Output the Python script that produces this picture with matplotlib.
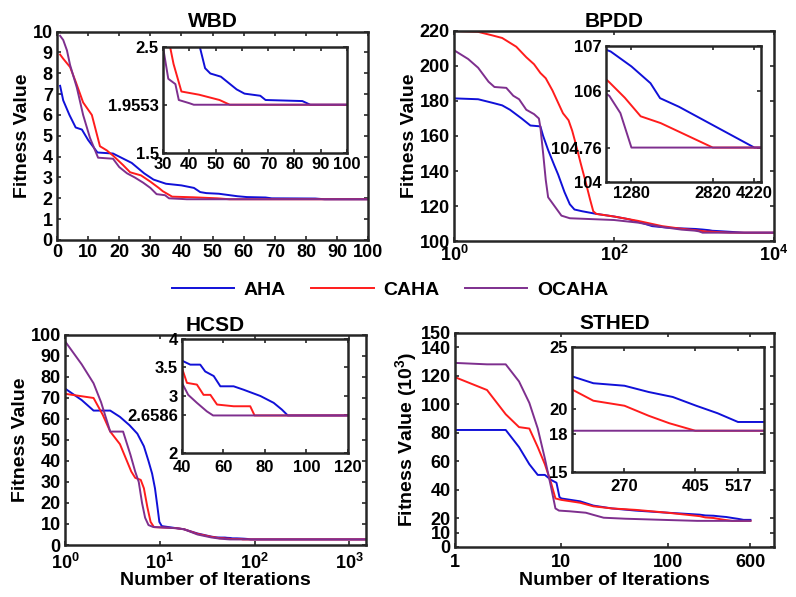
import matplotlib.pyplot as plt
from matplotlib.ticker import NullLocator, FixedLocator

plt.rcParams['font.family'] = ['Liberation Sans', 'DejaVu Sans']
plt.rcParams['font.weight'] = 'bold'
plt.rcParams['mathtext.fontset'] = 'custom'
plt.rcParams['mathtext.rm'] = 'Liberation Sans:bold'
plt.rcParams['mathtext.default'] = 'rm'

colores = {'AHA': '#1010d8', 'CAHA': '#ff1c1c', 'OCAHA': '#7e2f8e'}
nombres = ['AHA', 'CAHA', 'OCAHA']

# WBD
wbd_x = {
    'AHA': [1, 2, 4, 6, 8, 10, 13, 18, 20, 24, 28, 31, 35, 40, 44, 46, 48, 52, 55, 58, 61, 67, 69, 83, 86, 100],
    'CAHA': [1, 2, 4.2, 6, 8.4, 11.2, 13.8, 16, 18, 21.2, 23.5, 27, 30, 32.7, 34, 37, 43.7, 51.5, 55.4, 100],
    'OCAHA': [1, 2, 3.2, 4.2, 6.4, 8.4, 10.6, 13.2, 18, 20, 22.5, 25, 27.7, 30, 32, 34.7, 36, 40, 41.7, 100],
}
wbd_y = {
    'AHA': [7.4, 6.7, 6.0, 5.4, 5.3, 4.8, 4.2, 4.15, 4.0, 3.7, 3.2, 2.9, 2.7, 2.62, 2.5, 2.3, 2.25, 2.22, 2.16, 2.1, 2.06, 2.04, 2.0, 1.99, 1.9553, 1.9553],
    'CAHA': [8.9, 8.7, 8.3, 7.6, 6.6, 6.0, 4.5, 4.3, 4.05, 3.6, 3.25, 3.1, 2.8, 2.5, 2.34, 2.08, 2.05, 2.0, 1.9553, 1.9553],
    'OCAHA': [9.8, 9.6, 9.1, 8.4, 7.3, 6.0, 4.9, 3.95, 3.9, 3.5, 3.2, 3.0, 2.75, 2.5, 2.2, 2.15, 2.0, 1.97, 1.9553, 1.9553],
}

# BPDD
bpdd_x = {
    'AHA': [1, 2, 3, 4, 5, 7, 9, 12, 13, 15, 18, 20, 24, 28, 32, 40, 60, 100, 150, 200, 300, 500, 1046, 1280, 1540, 1690, 2030, 4220, 10000],
    'CAHA': [1, 2, 3, 4, 6, 8, 10, 12, 14, 17, 20, 23, 27, 30, 33, 38, 44, 50, 55, 60, 100, 200, 400, 700, 1033, 1200, 1400, 1700, 2820, 10000],
    'OCAHA': [1, 1.5, 2, 2.7, 3.2, 4.5, 5.5, 6.5, 8, 10, 11.5, 12, 13, 14, 15, 18, 22, 28, 100, 200, 400, 700, 1033, 1150, 1280, 10000],
}
bpdd_y = {
    'AHA': [181.5, 181, 179, 177.5, 175, 170, 166, 165.5, 160, 152, 143, 138, 128, 121, 118, 117, 115.5, 114, 112.5, 111, 108.5, 107.5, 106.88, 106.55, 106.18, 105.85, 105.66, 104.76, 104.76],
    'CAHA': [220, 219.5, 217.5, 216, 211, 205, 201, 196, 193, 186, 179, 173, 169, 163, 156, 145, 134, 124, 117, 115.5, 114, 111.5, 108.5, 107, 106.2, 105.86, 105.45, 105.3, 104.76, 104.76],
    'OCAHA': [209, 204, 199, 191, 188, 187.5, 183, 181, 175, 172.5, 170, 165, 150, 135, 125, 120, 114.5, 113, 112, 110.5, 108, 106.5, 105.9, 105.52, 104.76, 104.76],
}

# HCSD
hcsd_x = {
    'AHA': [1, 1.5, 2, 3, 3.8, 4.8, 5.8, 6.8, 7.6, 8.3, 8.9, 9.4, 9.9, 10.5, 15, 18, 25, 35, 40, 44, 48.8, 51.2, 55.3, 58.5, 64.9, 69.7, 77.8, 84.2, 88.2, 91, 1500],
    'CAHA': [1, 2, 2.5, 3, 3.8, 4.5, 5, 5.5, 6.3, 6.8, 7.4, 8, 8.7, 10, 15, 18, 25, 35, 40, 42.4, 47.2, 50.4, 53.7, 56.9, 64.9, 72.9, 75, 1500],
    'OCAHA': [1, 1.5, 2, 2.4, 3, 4.1, 4.9, 5.5, 6, 6.5, 7, 7.6, 8.5, 10, 15, 18, 25, 35, 40, 43, 47.2, 52, 55, 1500],
}
hcsd_y = {
    'AHA': [74.5, 69, 64, 64, 61, 57, 53, 47, 40, 34, 27, 19, 11, 9, 8, 7.5, 5.5, 4, 3.62, 3.55, 3.55, 3.43, 3.35, 3.17, 3.17, 3.11, 3.0, 2.88, 2.76, 2.6586, 2.6586],
    'CAHA': [72, 70, 62, 54, 48, 40, 35, 32, 31, 27, 18, 11, 8.5, 8.4, 8, 7.5, 5.3, 3.9, 3.49, 3.23, 3.2, 3.02, 3.02, 2.85, 2.82, 2.82, 2.6586, 2.6586],
    'OCAHA': [97, 86, 77, 68, 54, 54, 43, 35, 30, 20, 13, 9.5, 8.6, 8.4, 8, 7.5, 5, 3.6, 3.23, 3.02, 2.88, 2.73, 2.6586, 2.6586],
}

# STHED (10^3)
sthed_x = {
    'AHA': [1, 2, 3, 4, 5, 6, 7, 8, 9, 9.6, 10, 15, 20, 30, 50, 100, 200, 226, 270, 310, 356, 407, 460, 517, 600],
    'CAHA': [1, 2, 3, 4, 5, 6, 7, 8, 8.8, 10, 15, 20, 30, 50, 100, 200, 226, 270, 310, 349, 405, 600],
    'OCAHA': [1, 2, 3, 4, 5, 6, 7, 8, 8.8, 9.5, 12, 17, 20, 25, 40, 100, 190, 600],
}
sthed_y = {
    'AHA': [82, 82, 82, 70, 58, 50.5, 50.5, 47, 45, 35, 34, 32, 29, 27, 25.5, 24, 22.65, 22.1, 21.9, 21.4, 21.0, 20.3, 19.7, 19.0, 19.0],
    'CAHA': [119, 110, 93, 84, 83, 70, 58, 45, 34, 33, 31, 28.5, 27, 26, 24, 21.6, 20.7, 20.3, 19.5, 18.9, 18.3, 18.3],
    'OCAHA': [129, 128, 128, 116, 101, 83, 62, 42, 27, 25.5, 25, 24, 22.5, 20.5, 19.8, 18.9, 18.3, 18.3],
}


def estilo(ax, size=13):
    ax.tick_params(direction='in', top=True, right=True, length=3, width=1.2,
                   labelsize=size, color='#262626', pad=3)
    for s in ax.spines.values():
        s.set_linewidth(1.8)
        s.set_color('#262626')


def dibujar(ax, xs, ys, lw=1.4):
    lineas = []
    for n in nombres:
        l, = ax.plot(xs[n], ys[n], color=colores[n], lw=lw, label=n)
        lineas.append(l)
    return lineas


fig = plt.figure(figsize=(7.96, 5.97), dpi=100)

# ---- WBD ----
ax1 = fig.add_axes([0.0716, 0.598, 0.391, 0.349])
lineas = dibujar(ax1, wbd_x, wbd_y)
ax1.set_xlim(0, 100)
ax1.set_ylim(0, 10)
ax1.set_xticks(range(0, 101, 10))
ax1.set_yticks(range(0, 11))
ax1.set_title('WBD', fontsize=15, fontweight='bold', pad=3)
ax1.set_ylabel('Fitness Value', fontsize=14, fontweight='bold', labelpad=1)
estilo(ax1)

in1 = fig.add_axes([0.2048, 0.7437, 0.2312, 0.1776])
dibujar(in1, wbd_x, wbd_y)
in1.set_xlim(30, 100)
in1.set_ylim(1.5, 2.5)
in1.set_xticks(range(30, 101, 10))
in1.set_yticks([1.5, 1.9553, 2.5])
in1.set_yticklabels(['1.5', '1.9553', '2.5'])
estilo(in1, 12)

# ---- BPDD ----
ax2 = fig.add_axes([0.5704, 0.5963, 0.402, 0.3518])
dibujar(ax2, bpdd_x, bpdd_y)
ax2.set_xscale('log')
ax2.set_xlim(1, 1e4)
ax2.set_ylim(100, 220)
ax2.xaxis.set_major_locator(FixedLocator([1, 100, 10000]))
ax2.xaxis.set_minor_locator(NullLocator())
ax2.set_xticklabels(['10$^{0}$', '10$^{2}$', '10$^{4}$'])
ax2.set_yticks(range(100, 221, 20))
ax2.set_title('BPDD', fontsize=15, fontweight='bold', pad=3)
ax2.set_ylabel('Fitness Value', fontsize=14, fontweight='bold', labelpad=1)
estilo(ax2)

in2 = fig.add_axes([0.7613, 0.6951, 0.1947, 0.2278])
dibujar(in2, bpdd_x, bpdd_y)
in2.set_xscale('log')
in2.set_xlim(1000, 4500)
in2.set_ylim(104, 107)
in2.xaxis.set_major_locator(FixedLocator([1280, 2820, 4220]))
in2.xaxis.set_minor_locator(NullLocator())
in2.set_xticklabels(['1280', '2820', '4220'])
in2.set_yticks([104, 104.76, 106, 107])
in2.set_yticklabels(['104', '104.76', '106', '107'])
estilo(in2, 12)

# ---- HCSD ----
ax3 = fig.add_axes([0.0817, 0.0871, 0.378, 0.3518])
dibujar(ax3, hcsd_x, hcsd_y)
ax3.set_xscale('log')
ax3.set_xlim(1, 1500)
ax3.set_ylim(0, 100)
ax3.xaxis.set_major_locator(FixedLocator([1, 10, 100, 1000]))
ax3.xaxis.set_minor_locator(NullLocator())
ax3.set_xticklabels(['10$^{0}$', '10$^{1}$', '10$^{2}$', '10$^{3}$'])
ax3.set_yticks(range(0, 101, 10))
ax3.set_title('HCSD', fontsize=15, fontweight='bold', pad=3)
ax3.set_ylabel('Fitness Value', fontsize=14, fontweight='bold', labelpad=1)
ax3.set_xlabel('Number of Iterations', fontsize=14, fontweight='bold', labelpad=-1)
ax3.tick_params(axis='x', pad=5)
estilo(ax3)
ax3.tick_params(axis='x', pad=6)

in3 = fig.add_axes([0.2286, 0.2412, 0.2085, 0.191])
dibujar(in3, hcsd_x, hcsd_y)
in3.set_xlim(40, 120)
in3.set_ylim(2, 4)
in3.set_xticks([40, 60, 80, 100, 120])
in3.set_yticks([2, 2.6586, 3, 3.5, 4])
in3.set_yticklabels(['2', '2.6586', '3', '3.5', '4'])
estilo(in3, 12)
in3.tick_params(axis='x', pad=5)

# ---- STHED ----
ax4 = fig.add_axes([0.5716, 0.0838, 0.4008, 0.3585])
dibujar(ax4, sthed_x, sthed_y)
ax4.set_xscale('log')
ax4.set_xlim(1, 1000)
ax4.set_ylim(0, 150)
ax4.xaxis.set_major_locator(FixedLocator([1, 10, 100, 600]))
ax4.xaxis.set_minor_locator(NullLocator())
ax4.set_xticklabels(['1', '10', '100', '600'])
ax4.set_yticks([0, 10, 20, 40, 60, 80, 100, 120, 140, 150])
ax4.set_title('STHED', fontsize=15, fontweight='bold', pad=3)
ax4.set_ylabel('Fitness Value (10$^{3}$)', fontsize=14, fontweight='bold', labelpad=1)
ax4.set_xlabel('Number of Iterations', fontsize=14, fontweight='bold', labelpad=1)
estilo(ax4)
ax4.tick_params(axis='x', pad=5)

in4 = fig.add_axes([0.7186, 0.2094, 0.2412, 0.2094])
dibujar(in4, sthed_x, sthed_y)
in4.set_xscale('log')
in4.set_xlim(200, 600)
in4.set_ylim(15, 25)
in4.xaxis.set_major_locator(FixedLocator([270, 405, 517]))
in4.xaxis.set_minor_locator(NullLocator())
in4.set_xticklabels(['270', '405', '517'])
in4.set_yticks([15, 18, 20, 25])
estilo(in4, 12)
in4.tick_params(axis='x', pad=5)

fig.legend(handles=lineas, labels=nombres, loc='center', bbox_to_anchor=(0.49, 0.514),
           ncol=3, frameon=False, fontsize=14, handlelength=3.2, columnspacing=1.3,
           handletextpad=0.5)

fig.savefig('out.png', dpi=100)
